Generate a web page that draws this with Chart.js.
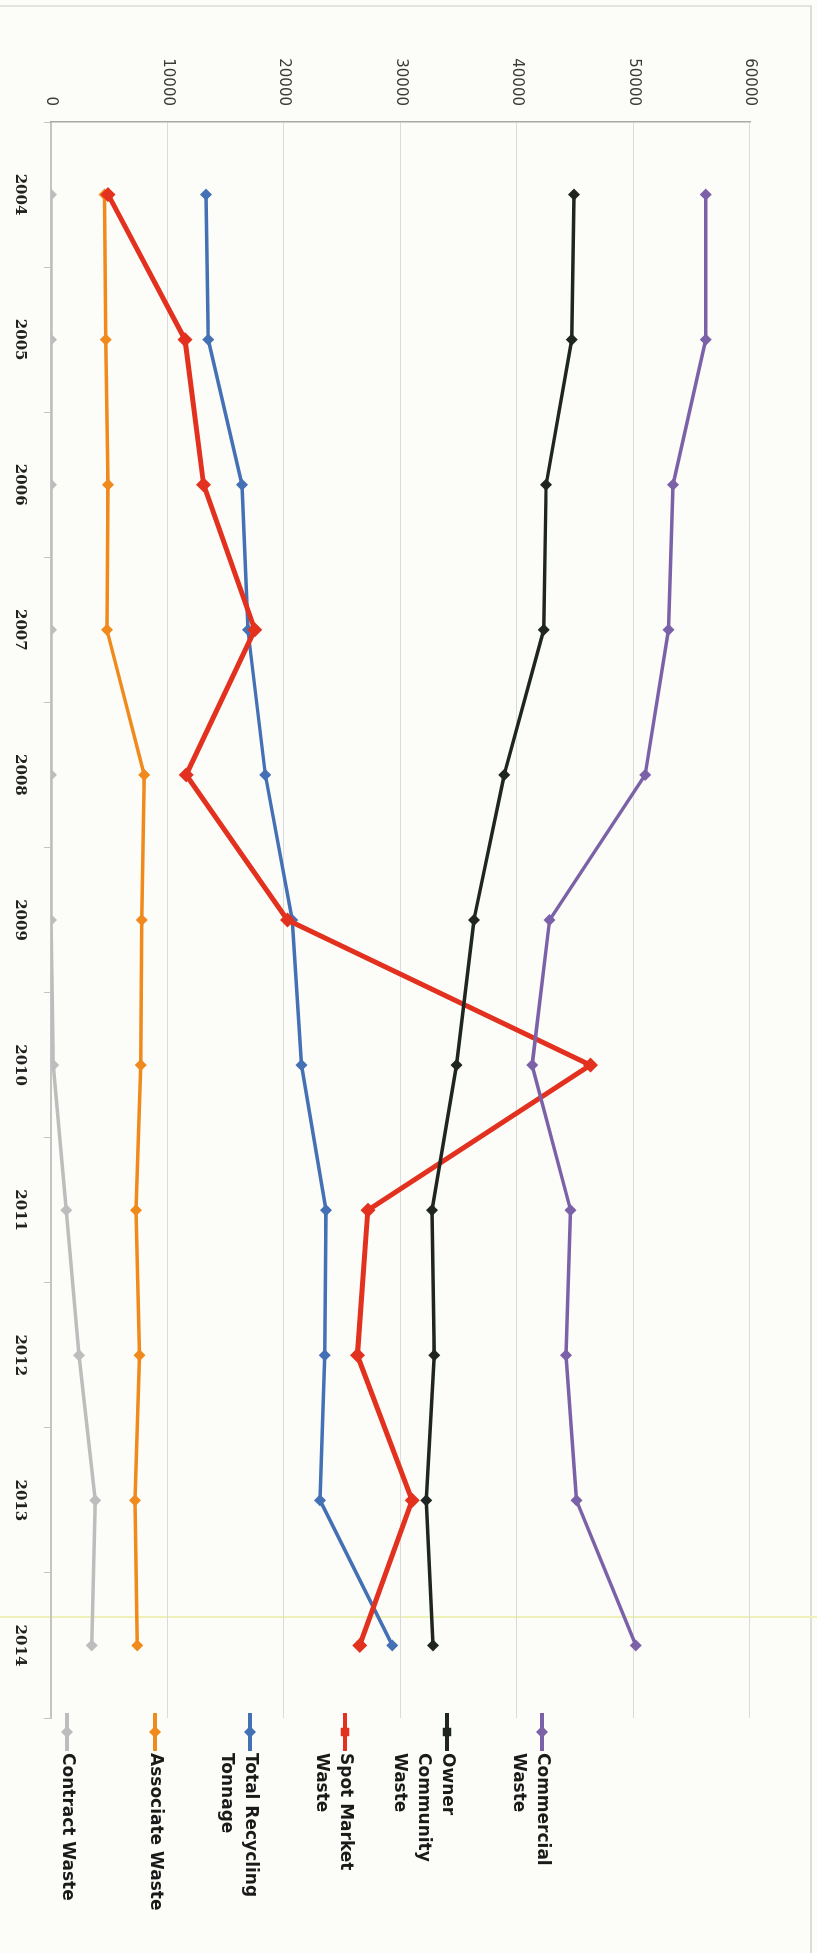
<!DOCTYPE html>
<html>
<head>
<meta charset="utf-8">
<script src="https://cdn.jsdelivr.net/npm/chart.js@4.4.1/dist/chart.umd.min.js"></script>
<style>
  html, body { margin: 0; padding: 0; background: #fcfcf8; }
  body { width: 817px; height: 1953px; position: relative; overflow: hidden; }
  #frame { position: absolute; left: -10px; top: 5px; width: 822px; height: 2000px; box-sizing: border-box;
           border-top: 2px solid #e3e3e3; border-right: 2px solid #dcdcdc; }
  #scanline { position: absolute; left: 0; top: 1616px; width: 817px; height: 2px; background: #eef1b8; }
  /* chart is drawn landscape, then turned a quarter clockwise like the scan */
  #wrap { position: absolute; left: 0; top: 0; width: 1953px; height: 817px;
          transform-origin: 0 0; transform: translate(817px, 0) rotate(90deg); }
</style>
</head>
<body>
<div id="frame"></div>
<div id="scanline"></div>
<div id="wrap"><canvas id="myChart" width="1953" height="817"></canvas></div>
<script>
const years = ['2004', '2005', '2006', '2007', '2008', '2009', '2010', '2011', '2012', '2013', '2014'];

const commercialWaste = [56200, 56200, 53400, 53000, 51000, 42800, 41300, 44600, 44200, 45100, 50200];
const ownerCommunityWaste = [44900, 44700, 42500, 42300, 38900, 36300, 34800, 32700, 32900, 32200, 32800];
const spotMarketWaste = [4900, 11500, 13100, 17500, 11600, 20300, 46300, 27200, 26300, 31000, 26500];
const totalRecyclingTonnage = [13300, 13500, 16400, 16900, 18400, 20700, 21500, 23600, 23500, 23100, 29300];
const associateWaste = [4600, 4700, 4900, 4800, 8000, 7800, 7700, 7300, 7600, 7200, 7400];
const contractWaste = [0, 0, 0, 0, 0, 0, 200, 1300, 2400, 3800, 3500];

const seriesNames = ['Commercial Waste', 'Owner Community Waste', 'Spot Market Waste',
                     'Total Recycling Tonnage', 'Associate Waste', 'Contract Waste'];
const legendLines = [['Commercial', 'Waste'], ['Owner', 'Community', 'Waste'], ['Spot Market', 'Waste'],
                     ['Total Recycling', 'Tonnage'], ['Associate Waste'], ['Contract Waste']];
const valueTicks = [0, 10000, 20000, 30000, 40000, 50000, 60000];

const seriesColors = ['#7b62a8', '#1f2622', '#e2321f', '#4470b5', '#f08a1c', '#bdbdbd'];
const seriesData = [commercialWaste, ownerCommunityWaste, spotMarketWaste,
                    totalRecyclingTonnage, associateWaste, contractWaste];

// legend drawn by hand so the wrapped labels sit like the Excel one
const excelLegend = {
    id: 'excelLegend',
    afterDraw(chart) {
        const ctx = chart.ctx;
        const area = chart.chartArea;
        const lineStart = area.right - 5;
        const lineEnd = area.right + 33;
        let y = 275;
        ctx.save();
        chart.data.datasets.forEach((ds, i) => {
            ctx.strokeStyle = ds.borderColor;
            ctx.lineWidth = 4;
            ctx.beginPath();
            ctx.moveTo(lineStart, y);
            ctx.lineTo(lineEnd, y);
            ctx.stroke();
            ctx.fillStyle = ds.borderColor;
            Chart.helpers.drawPoint(ctx, {
                pointStyle: i === 1 || i === 2 ? 'rect' : 'rectRot',
                radius: 6, rotation: 0, borderWidth: 0
            }, (lineStart + lineEnd) / 2, y);

            ctx.fillStyle = '#1a1a1a';
            ctx.font = 'bold 17px "DejaVu Sans"';
            ctx.textAlign = 'left';
            ctx.textBaseline = 'middle';
            legendLines[i].forEach((t, k) => ctx.fillText(t, lineEnd + 2, y + k * 24));
            y += 81 + 7 * legendLines[i].length;
        });
        ctx.restore();
    }
};

const ctx = document.getElementById('myChart');

new Chart(ctx, {
    type: 'line',
    data: {
        labels: years,
        datasets: seriesNames.map((name, i) => ({
            label: name,
            data: seriesData[i],
            borderColor: seriesColors[i],
            backgroundColor: seriesColors[i],
            pointBackgroundColor: seriesColors[i],
            pointBorderColor: seriesColors[i],
            borderWidth: i === 2 ? 5 : 3.5,
            pointStyle: 'rectRot',
            pointRadius: i === 2 ? 7.5 : 6,
            pointBorderWidth: 0,
            tension: 0
        }))
    },
    options: {
        responsive: false,
        animation: false,
        events: [],
        layout: { padding: { top: 67, right: 235, bottom: 0, left: 0 } },
        plugins: {
            legend: { display: false },
            tooltip: { enabled: false }
        },
        scales: {
            x: {
                offset: true,
                afterFit: s => { s.height = 51; },
                grid: {
                    offset: true,
                    drawOnChartArea: false,
                    drawTicks: true,
                    tickLength: 7,
                    color: '#c4c4c4'
                },
                border: { display: true, color: '#c4c4c4', width: 2 },
                ticks: {
                    maxRotation: 0,
                    padding: 15,
                    color: '#222222',
                    font: { family: '"DejaVu Serif"', size: 15, weight: 'bold' }
                }
            },
            y: {
                min: 0,
                max: 60000,
                afterFit: s => { s.width = 122; },
                afterBuildTicks: s => { s.ticks = valueTicks.map(v => ({ value: v })); },
                grid: { color: '#dadada', lineWidth: 1, drawTicks: false },
                border: { display: true, color: '#a8a8a8', width: 1.5 },
                ticks: {
                    padding: 16,
                    color: '#3a3a3a',
                    font: { family: '"DejaVu Sans"', size: 15 },
                    callback: v => String(v)
                }
            }
        }
    },
    plugins: [excelLegend]
});
</script>
</body>
</html>
